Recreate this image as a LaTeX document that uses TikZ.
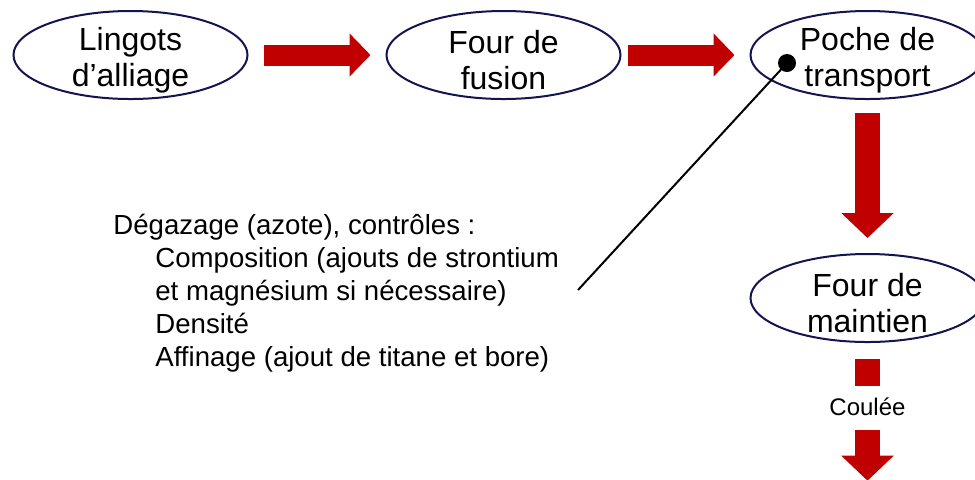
\documentclass[tikz,border=0pt]{standalone}
\usepackage{fontspec}
\setmainfont{Liberation Sans}
\usetikzlibrary{positioning,arrows.meta,shapes.geometric}

\definecolor{navy}{RGB}{20,20,80}
\definecolor{rouge}{RGB}{192,0,0}

\tikzset{
  etape/.style={ellipse, draw=navy, line width=1pt, minimum width=117pt, minimum height=44pt,
    inner sep=0pt, label={[align=center, yshift=-2.5pt, font=\fontsize{16}{18}\selectfont]center:#1}},
  flecheh/.style={draw=rouge, line width=10.5pt, -{Triangle[length=10.5pt,width=21pt]}},
  flechev/.style={draw=rouge, line width=12.5pt, -{Triangle[length=12.5pt,width=25.5pt]}},
}

\begin{document}
\begin{tikzpicture}[x=0.5pt, y=-0.5pt]
  \useasboundingbox (0,0) rectangle (975,479);
  % etapes
  \node[etape={Lingots\\d'alliage}] (lingots) at (130.5,55) {};
  \node[etape={Four de\\fusion}, right=68.5pt of lingots] (fusion) {};
  \node[etape={Poche de\\transport}, right=64pt of fusion] (poche) {};
  \node[etape={Four de\\maintien}, below=76.5pt of poche] (maintien) {};
  \node[inner sep=0pt, font=\fontsize{12}{14}\selectfont, below=27pt of maintien] (coulee) {Coulée};
  \coordinate[below=32.5pt of coulee.south] (sortie);
  % traitement dans la poche
  \node[anchor=north west, align=left, inner sep=0pt, font=\fontsize{13.8}{16.5}\selectfont] (controles) at (113,214)
  {Dégazage (azote), contrôles :\\
   \hspace*{21pt}Composition (ajouts de strontium\\
   \hspace*{21pt}et magnésium si nécessaire)\\
   \hspace*{21pt}Densité\\
   \hspace*{21pt}Affinage (ajout de titane et bore)};
  \node[circle, fill, inner sep=0pt, minimum size=9pt] (pin) at (787,63) {};
  \coordinate (bout) at (578,290);
  \draw[line width=1pt] (pin.center) -- (bout);
  % fleches
  \draw[flecheh, shorten <=7.5pt, shorten >=7.5pt] (lingots.east) -- (fusion.west);
  \draw[flecheh, shorten <=3pt, shorten >=7.5pt] (fusion.east) -- (poche.west);
  \draw[flechev, shorten <=6.5pt, shorten >=7.5pt] (poche.south) -- (maintien.north);
  \draw[draw=rouge, line width=12.5pt, shorten <=8pt, shorten >=5.5pt] (maintien.south) -- (coulee.north);
  \draw[flechev, shorten <=7pt] (coulee.south) -- (sortie);
\end{tikzpicture}
\end{document}
